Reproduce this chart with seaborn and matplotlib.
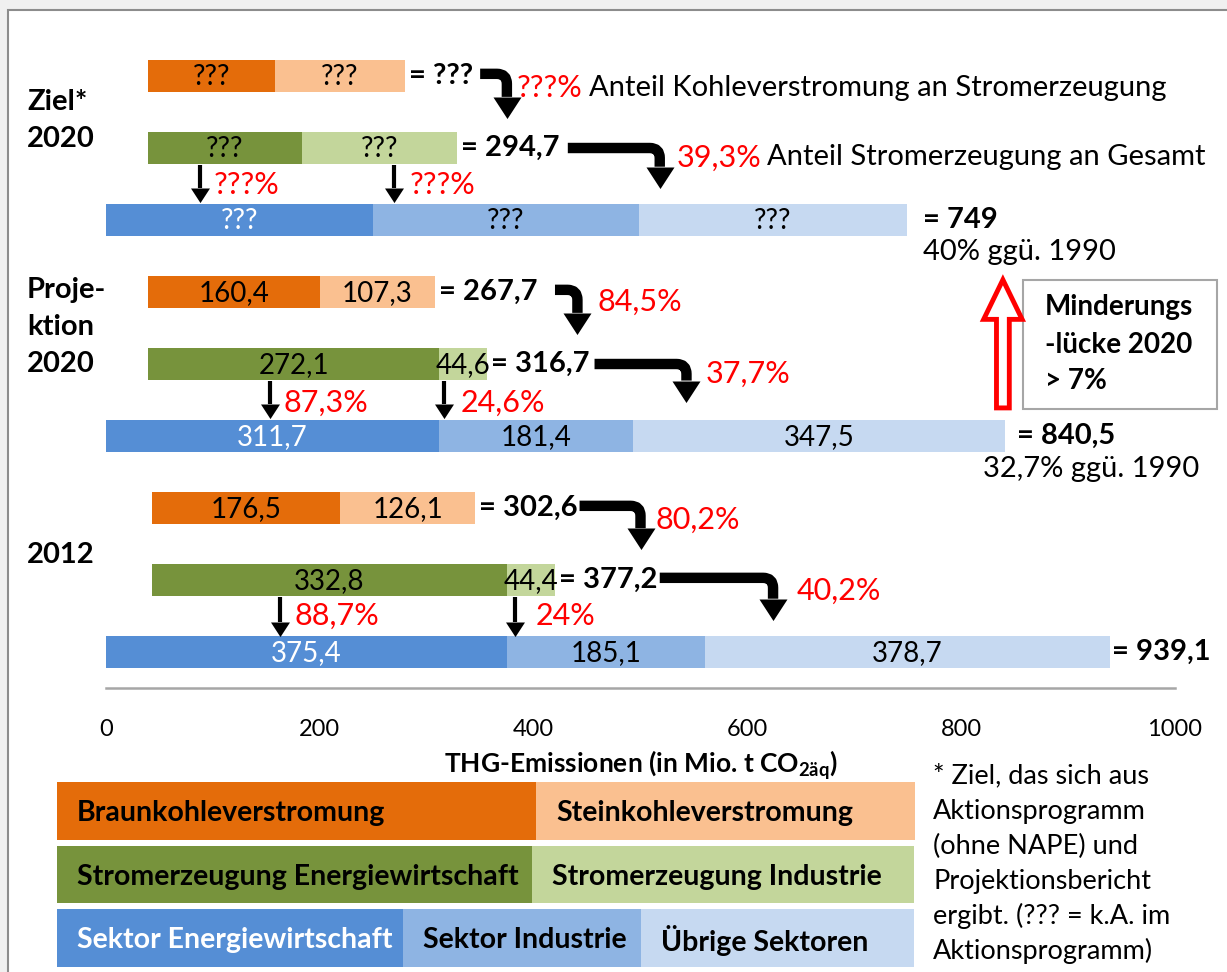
import matplotlib
matplotlib.use("Agg")
import matplotlib.pyplot as plt
import seaborn as sns
import pandas as pd
from matplotlib.patches import Rectangle, FancyArrowPatch, FancyArrow

# Werte je Szenario: Ziel* 2020 (k.A. -> Länge geschätzt), Projektion 2020, 2012
scenarios = ["Ziel* 2020", "Projektion 2020", "2012"]
braunkohle = [119.0, 160.4, 176.5]
steinkohle = [121.0, 107.3, 126.1]
strom_ew = [144.0, 272.1, 332.8]
strom_ind = [145.0, 44.6, 44.4]
sektor_ew = [249.5, 311.7, 375.4]
sektor_ind = [249.5, 181.4, 185.1]
uebrige = [250.0, 347.5, 378.7]
strom_start = [39.3, 39.6, 42.6]
known = [False, True, True]

sum_kohle = ["???", "267,7", "302,6"]
sum_strom = ["294,7", "316,7", "377,2"]
sum_gesamt = ["749", "840,5", "939,1"]
pct_kohle = ["???%", "84,5%", "80,2%"]
pct_strom = ["39,3%", "37,7%", "40,2%"]
pct_ew = ["???%", "87,3%", "88,7%"]
pct_ind = ["???%", "24,6%", "24%"]
vs_1990 = ["40% ggü. 1990", "32,7% ggü. 1990", ""]

x_ticks = [0, 200, 400, 600, 800, 1000]

C_BRAUN, C_STEIN = "#E46C0A", "#FAC090"
C_SEW, C_SIND = "#77933C", "#C3D69B"
C_BEW, C_BIND, C_UEB = "#558ED5", "#8EB4E3", "#C6D9F1"
RED = "#FF0000"

sns.set_theme(style="white")
plt.rcParams["font.family"] = ["Lato", "DejaVu Sans"]
plt.rcParams["text.color"] = "black"
plt.rcParams["axes.labelcolor"] = "black"
plt.rcParams["mathtext.fontset"] = "custom"
plt.rcParams["mathtext.rm"] = "Lato"
plt.rcParams["mathtext.bf"] = "Lato:bold"

# build segment table
rows = []
for i in range(3):
    base = 3 * i
    left = strom_start[i]
    for val, col in [(braunkohle[i], C_BRAUN), (steinkohle[i], C_STEIN)]:
        rows.append(dict(row=base, left=left, width=val, color=col, known=known[i], txt="black"))
        left += val
    left = strom_start[i]
    for val, col in [(strom_ew[i], C_SEW), (strom_ind[i], C_SIND)]:
        rows.append(dict(row=base + 1, left=left, width=val, color=col, known=known[i], txt="black"))
        left += val
    left = 0
    for val, col, tc in [(sektor_ew[i], C_BEW, "white"), (sektor_ind[i], C_BIND, "black"),
                         (uebrige[i], C_UEB, "black")]:
        rows.append(dict(row=base + 2, left=left, width=val, color=col, known=known[i], txt=tc))
        left += val
seg = pd.DataFrame(rows)

fig = plt.figure(figsize=(12.27, 9.72), dpi=100)

# background frame + legend (pixel coordinates)
ov = fig.add_axes([0, 0, 1, 1], zorder=0)
ov.set_xlim(0, 1227)
ov.set_ylim(972, 0)
ov.axis("off")
ov.add_patch(Rectangle((0, 0), 1227, 972, fc="#F0F0F0", ec="none"))
ov.add_patch(Rectangle((8, 10), 1240, 980, fc="white", ec="#8C8C8C", lw=1.5))

ax = fig.add_axes([106 / 1227, 1 - 688 / 972, 1069 / 1227, 648 / 972], zorder=1)
ax.patch.set_alpha(0)

ax.barh(seg["row"], seg["width"], left=seg["left"], height=0.44, color=seg["color"], lw=0)
for _, s in seg.iterrows():
    lab = f"{s['width']:.1f}".replace(".", ",") if s["known"] else "???"
    ax.text(s["left"] + s["width"] / 2, s["row"] + 0.02, lab, ha="center", va="center",
            fontsize=20, color=s["txt"])

ax.set_xlim(0, 1000)
ax.set_ylim(8.5, -0.5)
ax.set_yticks([])
ax.set_xticks(x_ticks)
ax.set_xticklabels([str(t) for t in x_ticks], fontsize=17, color="black")
ax.tick_params(axis="x", length=0, pad=22)
sns.despine(ax=ax, left=True, top=True, right=True)
ax.spines["bottom"].set_color("#A6A6A6")
ax.spines["bottom"].set_linewidth(1.8)
ax.set_xlabel(r"THG-Emissionen (in Mio. t CO$_{\mathbf{2äq}}$)", fontsize=19,
              fontweight="bold", labelpad=6)


def head(x, y_tip, size, hl):
    # filled triangular arrow head, tip pointing down at (x, y_tip)
    ax.plot([x], [y_tip - hl], marker=[(-13, 0), (13, 0), (0, -20), (-13, 0)],
            markersize=size, color="black", mec="none", clip_on=False)


def elbow(xa, ya, xb, yb):
    hl = 0.28
    ax.add_patch(FancyArrowPatch((xa, ya), (xb, yb - hl), arrowstyle="-",
                                 connectionstyle="angle,angleA=0,angleB=90,rad=10",
                                 lw=7.5, color="black", capstyle="butt",
                                 shrinkA=0, shrinkB=0, clip_on=False))
    head(xb, yb, 31, hl)


def down(x, y0, y1):
    hl = 0.2
    ax.plot([x, x], [y0, y1 - hl], color="black", lw=3, solid_capstyle="butt")
    head(x, y1, 21, hl)


fs = 21
fs_pct = 22
gesamt_gap = [15, 12, 2]
# sums
for i in range(3):
    b = 3 * i
    k_end = strom_start[i] + braunkohle[i] + steinkohle[i]
    s_end = strom_start[i] + strom_ew[i] + strom_ind[i]
    g_end = sektor_ew[i] + sektor_ind[i] + uebrige[i]
    ax.text(k_end + 4, b, "= " + sum_kohle[i], ha="left", va="center", fontsize=fs, fontweight="bold")
    ax.text(s_end + 4, b + 1, "= " + sum_strom[i], ha="left", va="center", fontsize=fs, fontweight="bold")
    ax.text(g_end + gesamt_gap[i], b + 2, "= " + sum_gesamt[i], ha="left", va="center",
            fontsize=fs, fontweight="bold")

# Ziel 2020
elbow(350, -0.03, 375, 0.57)
ax.text(384, 0.17, pct_kohle[0], color=RED, fontsize=fs_pct, va="center")
ax.text(452, 0.17, "Anteil Kohleverstromung an Stromerzeugung", fontsize=fs, va="center")
elbow(432, 1.0, 518, 1.54)
ax.text(534, 1.13, pct_strom[0], color=RED, fontsize=fs_pct, va="center")
ax.text(618, 1.13, "Anteil Stromerzeugung an Gesamt", fontsize=fs, va="center")
down(88, 1.24, 1.76)
down(269, 1.24, 1.76)
ax.text(101, 1.51, pct_ew[0], color=RED, fontsize=fs_pct, va="center")
ax.text(284, 1.51, pct_ind[0], color=RED, fontsize=fs_pct, va="center")
ax.text(764, 2.45, vs_1990[0], fontsize=fs, va="center")

# Projektion 2020
elbow(420, 2.97, 441, 3.57)
ax.text(460, 3.14, pct_kohle[1], color=RED, fontsize=fs_pct, va="center")
elbow(457, 4.0, 543, 4.51)
ax.text(561, 4.13, pct_strom[1], color=RED, fontsize=fs_pct, va="center")
down(153, 4.24, 4.76)
down(316, 4.24, 4.76)
ax.text(166, 4.54, pct_ew[1], color=RED, fontsize=fs_pct, va="center")
ax.text(332, 4.54, pct_ind[1], color=RED, fontsize=fs_pct, va="center")
ax.text(1023, 5.46, vs_1990[1], fontsize=fs, va="center", ha="right")

# 2012
elbow(443, 5.97, 500, 6.56)
ax.text(514, 6.17, pct_kohle[2], color=RED, fontsize=fs_pct, va="center")
elbow(518, 6.97, 624, 7.54)
ax.text(646, 7.15, pct_strom[2], color=RED, fontsize=fs_pct, va="center")
down(163, 7.24, 7.78)
down(383, 7.24, 7.78)
ax.text(176, 7.5, pct_ew[2], color=RED, fontsize=fs_pct, va="center")
ax.text(402, 7.5, pct_ind[2], color=RED, fontsize=fs_pct, va="center")

# Minderungslücke
ax.add_patch(FancyArrow(839, 4.61, 0, -1.78, width=12, head_width=36, head_length=0.55,
                        length_includes_head=True, fc="white", ec=RED, lw=3.5, clip_on=False))
ov.add_patch(Rectangle((1023, 280), 194, 129, fc="white", ec="#A6A6A6", lw=1.5))
for y, t in zip([307, 345, 381], ["Minderungs", "-lücke 2020", "> 7%"]):
    ov.text(1045, y, t, fontsize=20, fontweight="bold", va="center")

# row labels
for y, t in zip([102, 139, 290, 327, 364, 555], ["Ziel*", "2020", "Proje-", "ktion", "2020", "2012"]):
    ov.text(27, y, t, fontsize=21, fontweight="bold", va="center")

# legend
legend = [
    (782, 840, [(57, 536, C_BRAUN, "Braunkohleverstromung", "black"),
                (536, 915, C_STEIN, "Steinkohleverstromung", "black")]),
    (846, 903, [(57, 532, C_SEW, "Stromerzeugung Energiewirtschaft", "black"),
                (532, 914, C_SIND, "Stromerzeugung Industrie", "black")]),
    (909, 967, [(57, 403, C_BEW, "Sektor Energiewirtschaft", "white"),
                (403, 641, C_BIND, "Sektor Industrie", "black"),
                (641, 914, C_UEB, "Übrige Sektoren", "black")]),
]
for y0, y1, items in legend:
    for x0, x1, c, t, tc in items:
        ov.add_patch(Rectangle((x0, y0), x1 - x0, y1 - y0, fc=c, ec="none"))
        ov.text(x0 + 20, (y0 + y1) / 2 + 2, t, fontsize=20.5, fontweight="bold", color=tc, va="center")

note = ["* Ziel, das sich aus", "Aktionsprogramm", "(ohne NAPE) und",
        "Projektionsbericht", "ergibt. (??? = k.A. im", "Aktionsprogramm)"]
for k, t in enumerate(note):
    ov.text(933, 776 + 35 * k, t, fontsize=19.5, va="center")

fig.savefig("out.png", dpi=100)
